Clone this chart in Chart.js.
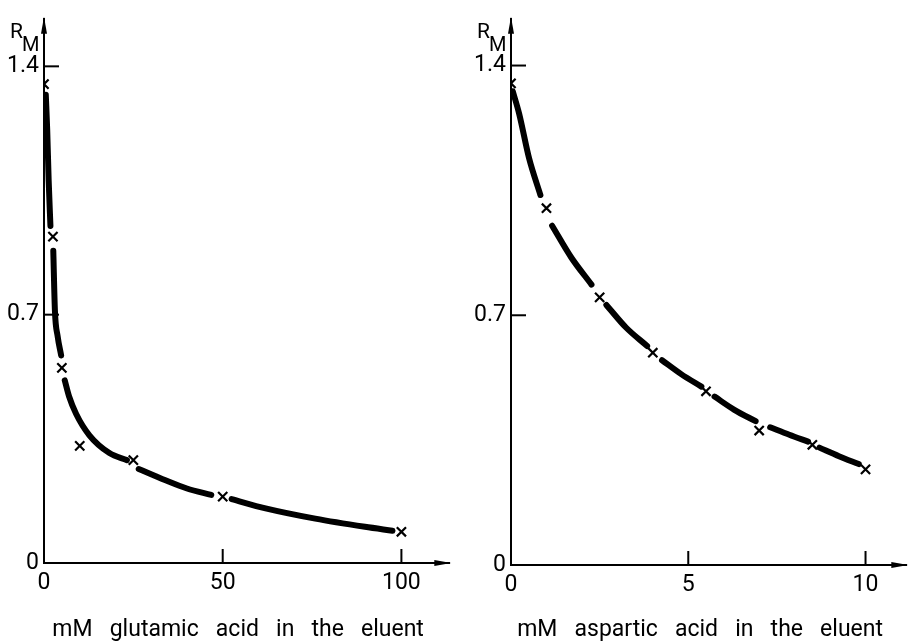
<!DOCTYPE html>
<html>
<head>
<meta charset="utf-8">
<script src="https://cdn.jsdelivr.net/npm/chart.js@4/dist/chart.umd.min.js"></script>
<style>
  html, body { margin: 0; padding: 0; background: #fff; }
  #left, #right { position: absolute; top: 0; }
  #left { left: 0; }
  #right { left: 458px; }
</style>
</head>
<body>
<canvas id="left" width="458" height="644"></canvas>
<canvas id="right" width="457" height="644"></canvas>
<script>
// glutamic acid panel
const gluConc = [0, 2.5, 5, 10, 25, 50, 100];
const gluRm = [1.35, 0.92, 0.55, 0.33, 0.29, 0.187, 0.088];
// fitted curve, null = break around a marker
const gluCurveConc = [0.5, 0.9, 1.3, 1.8, 2.2, 2.6, 3.06, 3.8, 4.8, 5.1, 5.8, 7, 9, 12.7, 18.3, 23.2, 24.9, 26.5, 34, 40, 46.8, 50, 52.5, 62, 75.9, 89.8, 97.5];
const gluCurveRm = [1.32, 1.22, 1.08, 0.95, null, 0.88, 0.71, 0.64, 0.585, null, 0.515, 0.47, 0.42, 0.36, 0.31, 0.29, null, 0.265, 0.233, 0.21, 0.192, null, 0.18, 0.154, 0.125, 0.102, 0.091];
const gluTicks = [0, 50, 100];

// aspartic acid panel
const aspConc = [0, 1, 2.5, 4, 5.5, 7, 8.5, 10];
const aspRm = [1.35, 1.0, 0.75, 0.595, 0.487, 0.377, 0.337, 0.268];
const aspCurveConc = [0.05, 0.23, 0.51, 0.83, 1.0, 1.16, 1.7, 2.27, 2.5, 2.69, 3.25, 3.84, 4.05, 4.26, 4.8, 5.37, 5.5, 5.74, 6.3, 6.9, 7.1, 7.31, 7.85, 8.38, 8.5, 8.7, 9.25, 9.81];
const aspCurveRm = [1.328, 1.265, 1.14, 1.037, null, 0.951, 0.862, 0.786, null, 0.729, 0.665, 0.614, null, 0.574, 0.535, 0.5, null, 0.472, 0.435, 0.403, null, 0.386, 0.365, 0.346, null, 0.329, 0.305, 0.283];
const aspTicks = [0, 5, 10];

const rmTicks = [0, 0.7, 1.4];

const FONT = "Roboto, sans-serif";
Chart.defaults.font.family = FONT;
Chart.defaults.color = '#000';

// inward tick marks, arrow heads and the R_M label
const axisDecor = {
  id: 'axisDecor',
  afterDraw(chart) {
    const { ctx, chartArea: { left, right, top, bottom }, scales: { x, y } } = chart;
    ctx.save();
    ctx.strokeStyle = '#000';
    ctx.fillStyle = '#000';
    ctx.lineWidth = 2;
    x.ticks.forEach(t => {
      if (t.value === 0) return;
      const px = x.getPixelForValue(t.value);
      ctx.beginPath();
      ctx.moveTo(px, bottom);
      ctx.lineTo(px, bottom - 14);
      ctx.stroke();
    });
    y.ticks.forEach(t => {
      if (t.value === 0) return;
      const py = y.getPixelForValue(t.value);
      ctx.beginPath();
      ctx.moveTo(left, py);
      ctx.lineTo(left + 15, py);
      ctx.stroke();
    });
    ctx.beginPath();
    ctx.moveTo(left, top - 2);
    ctx.lineTo(left - 3, top + 15);
    ctx.lineTo(left + 3, top + 15);
    ctx.closePath();
    ctx.fill();
    ctx.beginPath();
    ctx.moveTo(right + 2, bottom);
    ctx.lineTo(right - 15, bottom - 3);
    ctx.lineTo(right - 15, bottom + 3);
    ctx.closePath();
    ctx.fill();
    ctx.textBaseline = 'alphabetic';
    ctx.textAlign = 'left';
    ctx.font = '21px ' + FONT;
    ctx.fillText('R', left - 34, top + 19);
    ctx.font = '20px ' + FONT;
    ctx.fillText('M', left - 22, top + 32);
    ctx.restore();
  }
};

function makePanel(id, conc, rm, curveConc, curveRm, xTicks, xMax, yMax, yWidth, xHeight, padTop, padRight, title) {
  const points = conc.map((c, i) => ({ x: c, y: rm[i] }));
  const curve = curveConc.map((c, i) => ({ x: c, y: curveRm[i] }));
  new Chart(document.getElementById(id), {
    type: 'scatter',
    data: {
      datasets: [
        {
          data: curve,
          showLine: true,
          borderColor: '#000',
          borderWidth: 6,
          pointRadius: 0,
          spanGaps: false,
          cubicInterpolationMode: 'monotone',
          borderCapStyle: 'round'
        },
        {
          data: points,
          pointStyle: 'crossRot',
          pointRadius: 6.5,
          borderColor: '#000',
          borderWidth: 2.2,
          showLine: false
        }
      ]
    },
    plugins: [axisDecor],
    options: {
      responsive: false,
      animation: false,
      devicePixelRatio: 1,
      layout: { padding: { top: padTop, right: padRight, left: 0, bottom: 0 } },
      plugins: { legend: { display: false }, tooltip: { enabled: false } },
      scales: {
        x: {
          type: 'linear',
          min: 0,
          max: xMax,
          grid: { display: false, drawTicks: false },
          border: { display: true, color: '#000', width: 2 },
          afterBuildTicks: s => { s.ticks = xTicks.map(v => ({ value: v })); },
          afterFit: s => { s.height = xHeight; },
          ticks: { padding: 6, font: { size: 23 }, maxRotation: 0, callback: v => String(v) },
          title: { display: true, text: title, font: { size: 23, lineHeight: 1 }, padding: { top: 0, bottom: 2 } }
        },
        y: {
          type: 'linear',
          min: 0,
          max: yMax,
          grid: { display: false, drawTicks: false },
          border: { display: true, color: '#000', width: 2 },
          afterBuildTicks: s => { s.ticks = rmTicks.map(v => ({ value: v })); },
          afterFit: s => { s.width = yWidth; },
          ticks: { padding: 5, font: { size: 23 }, callback: v => String(v) }
        }
      }
    }
  });
}

makePanel('left', gluConc, gluRm, gluCurveConc, gluCurveRm, gluTicks, 113.4, 1.534, 44, 81, 12, 7,
  'mM   glutamic   acid   in   the   eluent   ');
makePanel('right', aspConc, aspRm, aspCurveConc, aspCurveRm, aspTicks, 11.15, 1.531, 53, 79, 15, 2,
  'mM   aspartic   acid   in   the   eluent   ');
</script>
</body>
</html>
